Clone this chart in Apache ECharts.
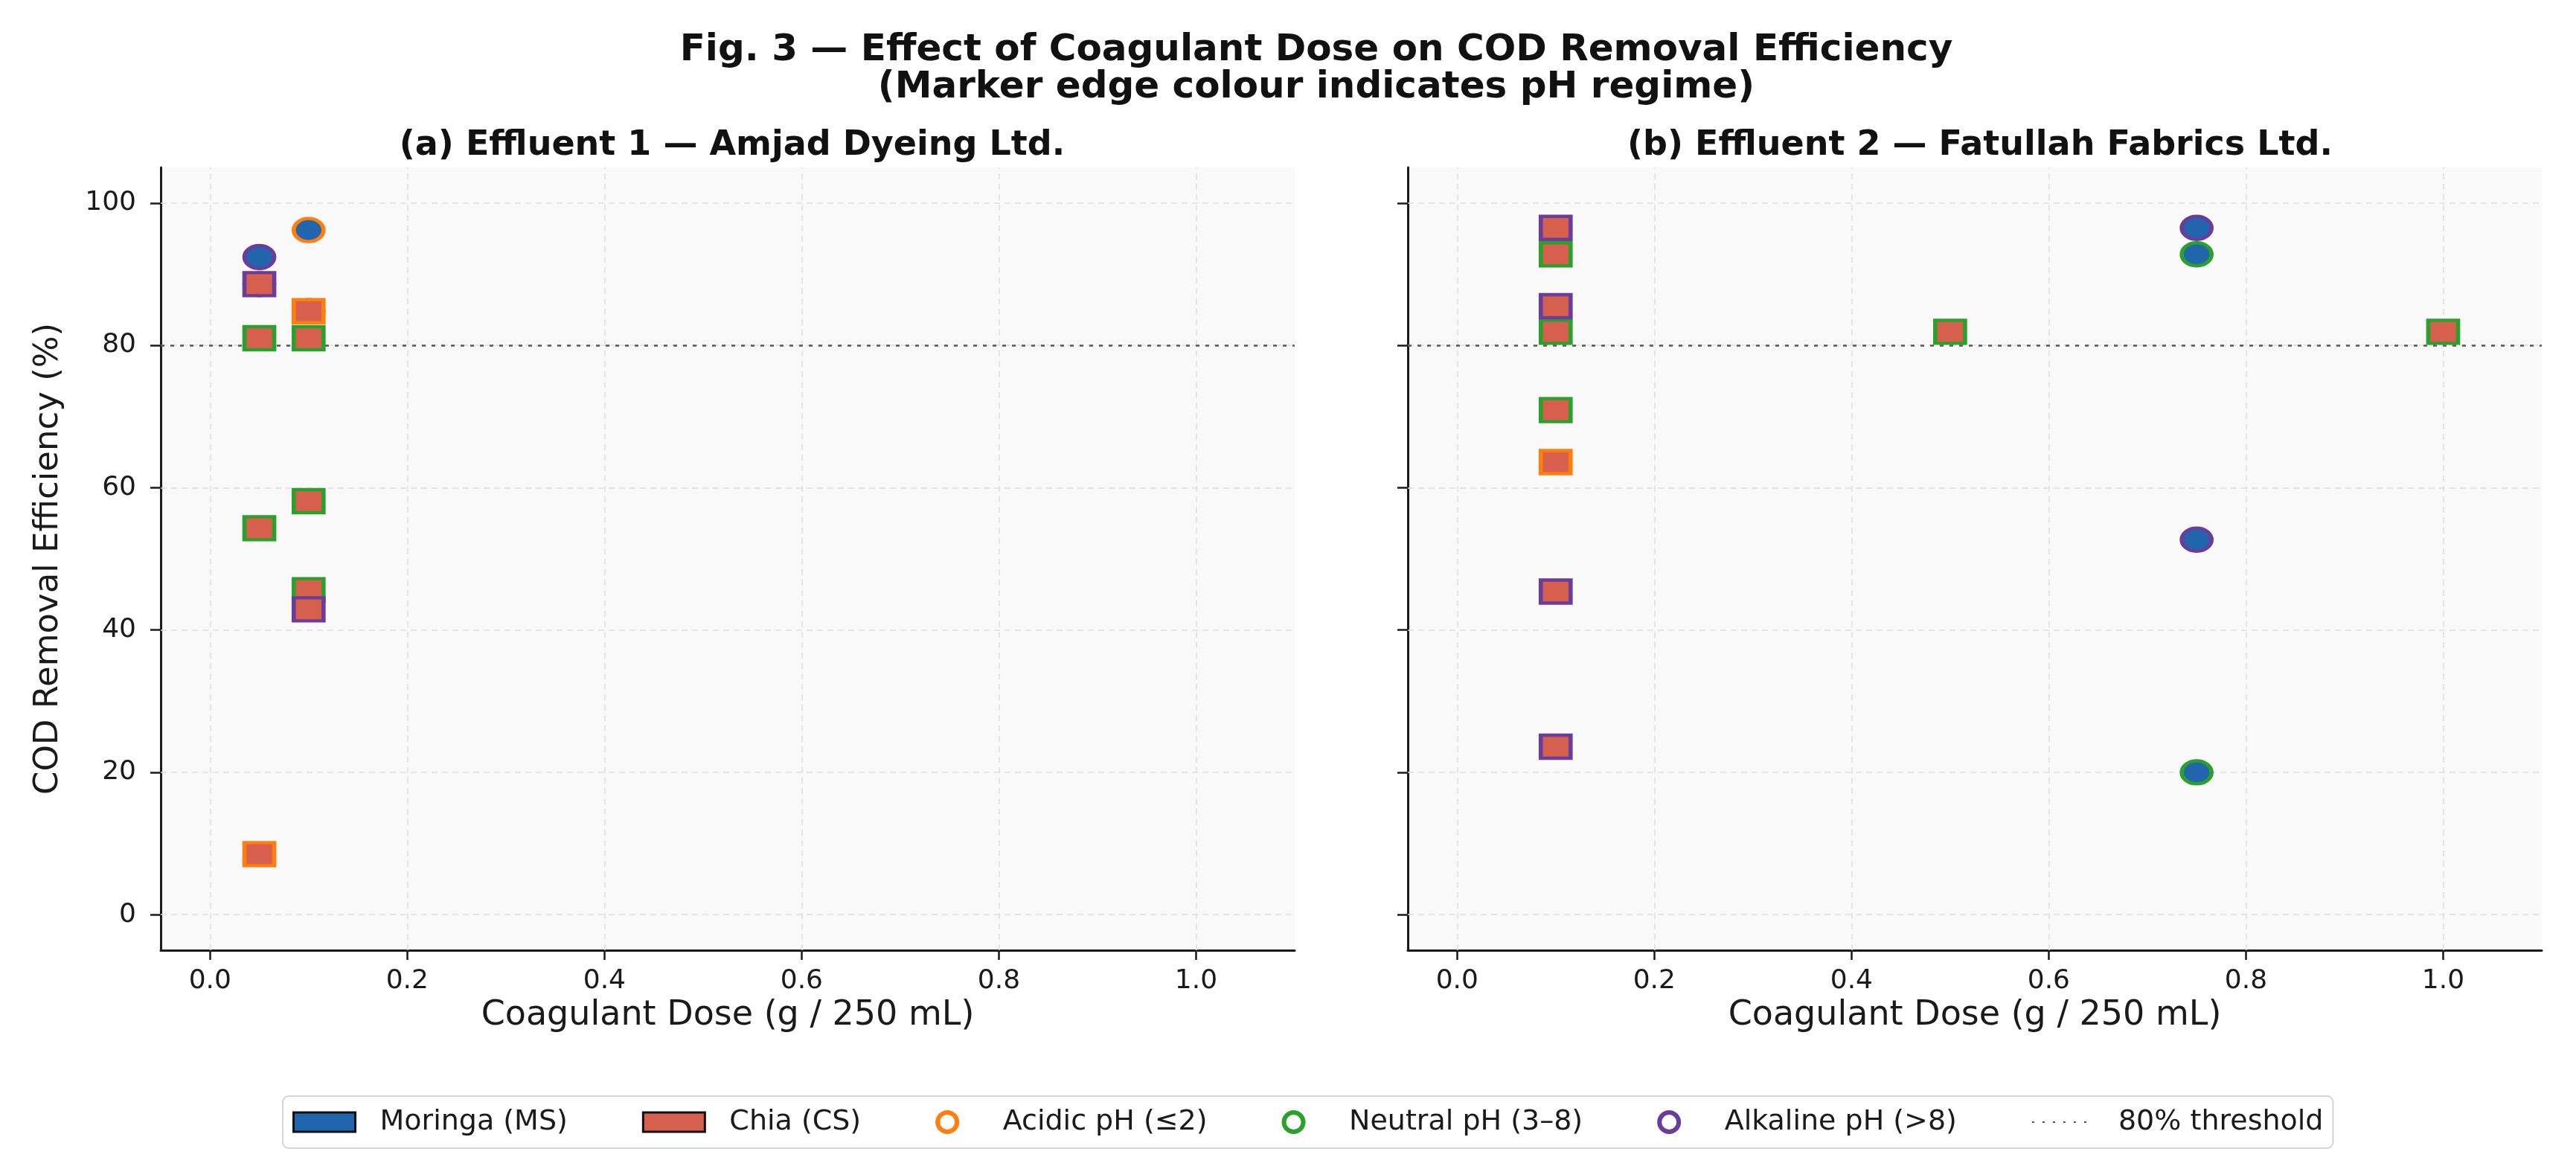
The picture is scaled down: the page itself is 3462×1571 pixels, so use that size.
<!DOCTYPE html>
<html>
<head>
<meta charset="utf-8">
<title>Fig. 3 — Effect of Coagulant Dose on COD Removal Efficiency</title>
<script src="https://cdn.jsdelivr.net/npm/echarts@6/dist/echarts.min.js"></script>
<style>
  html, body { margin: 0; padding: 0; background: #fff; }
  #chart { width: 3462px; height: 1571px; }
</style>
</head>
<body>
<div id="chart"></div>
<script>
// axis ticks
const doseTicks = [0, 0.2, 0.4, 0.6, 0.8, 1.0]
const effTicks = [0, 20, 40, 60, 80, 100]
const threshold = 80

// (a) Effluent 1 — [dose g/250 mL, COD removal %]
const e1MoringaAcidic = [[0.10, 96.2]]
const e1MoringaNeutral = [[0.05, 88.6], [0.10, 84.8]]
const e1MoringaAlkaline = [[0.05, 92.4]]
const e1ChiaAcidic = [[0.10, 84.8], [0.05, 8.5]]
const e1ChiaNeutral = [[0.05, 81.0], [0.10, 81.0], [0.10, 58.1], [0.05, 54.3], [0.10, 45.6]]
const e1ChiaAlkaline = [[0.05, 88.6], [0.10, 42.9]]

// (b) Effluent 2
const e2MoringaAcidic = []
const e2MoringaNeutral = [[0.75, 92.8], [0.75, 20.0]]
const e2MoringaAlkaline = [[0.75, 96.5], [0.75, 52.7]]
const e2ChiaAcidic = [[0.10, 63.6]]
const e2ChiaNeutral = [[0.10, 92.8], [0.10, 81.9], [0.10, 70.9], [0.50, 81.9], [1.00, 81.9]]
const e2ChiaAlkaline = [[0.10, 96.5], [0.10, 85.5], [0.10, 45.4], [0.10, 23.6]]

const FONT = 'DejaVu Sans'
const INK = '#1a1a1a'
const MS = '#2166ac'
const CS = '#d6604d'
const ACID = '#ff7f0e'
const NEUT = '#2ca02c'
const ALK = '#6a3d9a'

const chart = echarts.init(document.getElementById('chart'))

function pts(name, panel, data, shape, fill, edge) {
  return {
    name, type: 'scatter', xAxisIndex: panel, yAxisIndex: panel, data,
    symbol: shape, symbolSize: [40, 31],
    itemStyle: { color: fill, borderColor: edge, borderWidth: 5, opacity: 1 },
    emphasis: { disabled: true },
    z: 3
  }
}

// grid lines + 80% line for one panel
function guides(panel) {
  return [
    {
      name: 'grid' + panel, type: 'line', xAxisIndex: panel, yAxisIndex: panel, data: [], silent: true,
      markLine: {
        z: 1, silent: true, symbol: ['none', 'none'], label: { show: false }, animation: false,
        lineStyle: { type: [8, 6], color: '#dedede', width: 1.5 },
        data: doseTicks.map(v => ({ xAxis: v })).concat(effTicks.map(v => ({ yAxis: v })))
      }
    },
    {
      name: 'thr' + panel, type: 'line', xAxisIndex: panel, yAxisIndex: panel, data: [], silent: true,
      markLine: {
        z: 2, silent: true, symbol: ['none', 'none'], label: { show: false }, animation: false,
        lineStyle: { type: [5, 8], color: '#555', width: 2.5 },
        data: [{ yAxis: threshold }]
      }
    }
  ]
}

function xAx(panel) {
  return {
    type: 'value', gridIndex: panel, min: -0.05, max: 1.1,
    name: 'Coagulant Dose (g / 250 mL)', nameLocation: 'middle', nameGap: 64,
    nameTextStyle: { fontFamily: FONT, fontSize: 46, color: INK },
    axisLine: { onZero: false, lineStyle: { color: INK, width: 3 } },
    axisTick: { customValues: doseTicks, length: 13, lineStyle: { color: INK, width: 2.5 } },
    axisLabel: { customValues: doseTicks, formatter: v => v.toFixed(1), margin: 24,
      fontFamily: FONT, fontSize: 36, color: INK },
    splitLine: { show: false }
  }
}

function yAx(panel) {
  return {
    type: 'value', gridIndex: panel, min: -5, max: 105,
    name: panel === 0 ? 'COD Removal Efficiency (%)' : '', nameLocation: 'middle', nameGap: 128,
    nameTextStyle: { fontFamily: FONT, fontSize: 45, color: INK },
    axisLine: { show: true, onZero: false, lineStyle: { color: INK, width: 3 } },
    axisTick: { show: true, customValues: effTicks, length: 14, lineStyle: { color: INK, width: 2.5 } },
    axisLabel: { show: panel === 0, customValues: effTicks, margin: 33,
      fontFamily: FONT, fontSize: 36, color: INK },
    splitLine: { show: false }
  }
}

const series = [
  ...guides(0), ...guides(1),
  pts('a MS acidic', 0, e1MoringaAcidic, 'circle', MS, ACID),
  pts('a MS neutral', 0, e1MoringaNeutral, 'circle', MS, NEUT),
  pts('a MS alkaline', 0, e1MoringaAlkaline, 'circle', MS, ALK),
  pts('a CS acidic', 0, e1ChiaAcidic, 'rect', CS, ACID),
  pts('a CS neutral', 0, e1ChiaNeutral, 'rect', CS, NEUT),
  pts('a CS alkaline', 0, e1ChiaAlkaline, 'rect', CS, ALK),
  pts('b MS acidic', 1, e2MoringaAcidic, 'circle', MS, ACID),
  pts('b MS neutral', 1, e2MoringaNeutral, 'circle', MS, NEUT),
  pts('b MS alkaline', 1, e2MoringaAlkaline, 'circle', MS, ALK),
  pts('b CS acidic', 1, e2ChiaAcidic, 'rect', CS, ACID),
  pts('b CS neutral', 1, e2ChiaNeutral, 'rect', CS, NEUT),
  pts('b CS alkaline', 1, e2ChiaAlkaline, 'rect', CS, ALK),
  // legend-only entries
  { name: 'Moringa (MS)', type: 'scatter', data: [] },
  { name: 'Chia (CS)', type: 'scatter', data: [] },
  { name: 'Acidic pH (≤2)', type: 'scatter', data: [] },
  { name: 'Neutral pH (3–8)', type: 'scatter', data: [] },
  { name: 'Alkaline pH (>8)', type: 'scatter', data: [] },
  { name: '80% threshold', type: 'line', data: [], symbol: 'none',
    lineStyle: { type: [3, 11], color: '#555', width: 3 }, itemStyle: { color: '#555' } }
]

const ring = c => ({ color: 'transparent', borderColor: c, borderWidth: 6, opacity: 1 })

const option = {
  animation: false,
  backgroundColor: '#fff',
  title: [
    {
      text: 'Fig. 3 — Effect of Coagulant Dose on COD Removal Efficiency\n(Marker edge colour indicates pH regime)',
      left: 1764, top: 38, textAlign: 'center',
      textStyle: { fontFamily: FONT, fontSize: 50, fontWeight: 'bold', color: '#111', lineHeight: 50 }
    },
    {
      text: '(a) Effluent 1 — Amjad Dyeing Ltd.', left: 979, top: 168, textAlign: 'center',
      textStyle: { fontFamily: FONT, fontSize: 46, fontWeight: 'bold', color: '#111' }
    },
    {
      text: '(b) Effluent 2 — Fatullah Fabrics Ltd.', left: 2656, top: 168, textAlign: 'center',
      textStyle: { fontFamily: FONT, fontSize: 46, fontWeight: 'bold', color: '#111' }
    }
  ],
  grid: [
    { left: 216, top: 225, width: 1524, height: 1052, show: true, backgroundColor: '#f9f9f9', borderWidth: 0 },
    { left: 1892, top: 225, width: 1524, height: 1052, show: true, backgroundColor: '#f9f9f9', borderWidth: 0 }
  ],
  xAxis: [xAx(0), xAx(1)],
  yAxis: [yAx(0), yAx(1)],
  legend: {
    left: 380, top: 1473,
    itemWidth: 83, itemHeight: 26, itemGap: 100,
    padding: [16, 13], borderColor: '#d4d4d4', borderWidth: 2, borderRadius: 8,
    backgroundColor: '#fff',
    textStyle: { fontFamily: FONT, fontSize: 38, color: INK, padding: [0, 0, 0, 28] },
    selectedMode: false,
    data: [
      { name: 'Moringa (MS)', icon: 'rect', itemStyle: { color: MS, borderColor: '#111', borderWidth: 3, opacity: 1 } },
      { name: 'Chia (CS)', icon: 'rect', itemStyle: { color: CS, borderColor: '#111', borderWidth: 3, opacity: 1 } },
      { name: 'Acidic pH (≤2)', icon: 'circle', itemStyle: ring(ACID) },
      { name: 'Neutral pH (3–8)', icon: 'circle', itemStyle: ring(NEUT) },
      { name: 'Alkaline pH (>8)', icon: 'circle', itemStyle: ring(ALK) },
      { name: '80% threshold', itemStyle: { opacity: 0 } }
    ]
  },
  series
}

chart.setOption(option)
window.addEventListener('resize', () => chart.resize())
</script>
</body>
</html>
